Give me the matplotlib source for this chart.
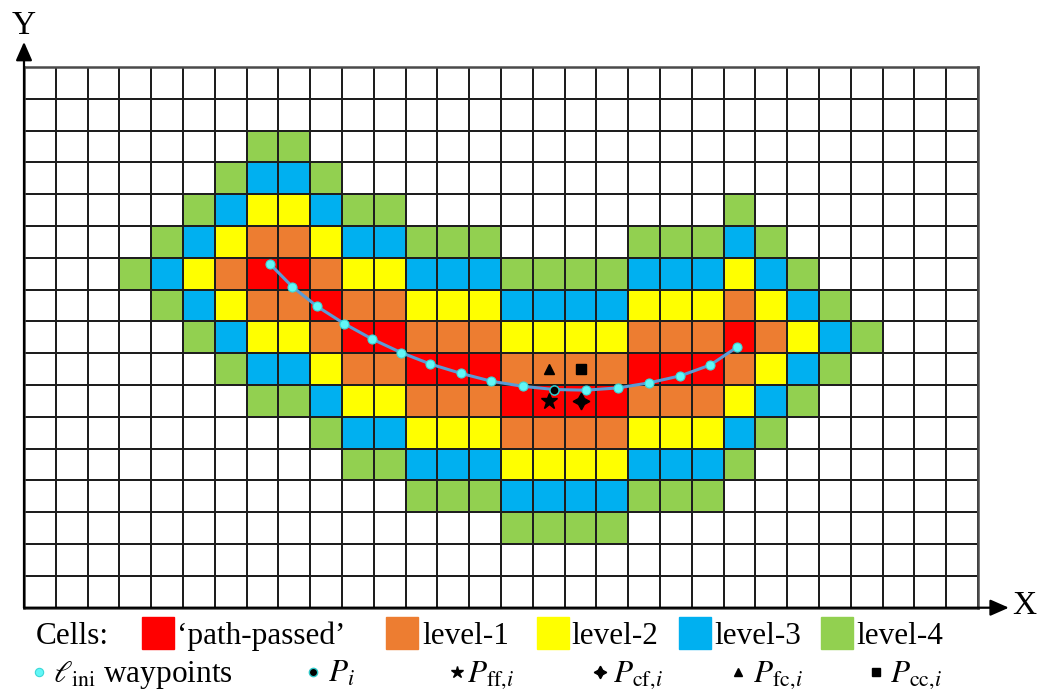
import numpy as np
import matplotlib.pyplot as plt
from matplotlib.colors import ListedColormap, BoundaryNorm
from matplotlib.patches import Rectangle

plt.rcParams['font.family'] = ['Liberation Serif', 'DejaVu Serif']
plt.rcParams['mathtext.fontset'] = 'stix'

# cell map, top row first: '.' free, 'P' path-passed, '1'..'4' risk levels
cell_rows = [
    "..............................",
    "..............................",
    ".......44.....................",
    "......4334....................",
    ".....4322344..........4.......",
    "....43211233444....44434......",
    "...4321PP1223334444333234.....",
    "....43211P1122233332221234....",
    ".....43221PP1112222111P1234...",
    "......433211PPP1111PPP1234....",
    ".......44322111PPPP111234.....",
    ".........433222111122234......",
    "..........4433322223334.......",
    "............4443333444........",
    "...............4444...........",
    "..............................",
    "..............................",
]
code = {'.': 0, 'P': 1, '1': 2, '2': 3, '3': 4, '4': 5}
cell_colors = ['white', '#FF0000', '#ED7D31', '#FFFF00', '#00B0F0', '#92D050']
cell_names = ["\u2018path-passed\u2019", "level-1", "level-2", "level-3", "level-4"]

# initial path waypoints (grid units)
wp_x = [7.74, 8.44, 9.22, 10.07, 10.94, 11.86, 12.78, 13.73, 14.70, 15.69,
        16.68, 17.67, 18.68, 19.66, 20.64, 21.58, 22.42]
wp_y = [10.80, 10.09, 9.47, 8.93, 8.45, 8.02, 7.66, 7.37, 7.12, 6.96,
        6.86, 6.84, 6.91, 7.07, 7.29, 7.63, 8.19]
pi_index = 10

# candidate points around P_i (cell centres)
p_ff = (16.5, 6.5)
p_cf = (17.5, 6.5)
p_fc = (16.5, 7.5)
p_cc = (17.5, 7.5)

grid = np.array([[code[ch] for ch in row] for row in cell_rows])[::-1]
n_rows, n_cols = grid.shape

W, H = 1053, 692
fig = plt.figure(figsize=(W / 100, H / 100), dpi=100)
ax = fig.add_axes([24 / W, (H - 607.7) / H, 954 / W, 540.7 / H])

cmap = ListedColormap(cell_colors)
norm = BoundaryNorm(np.arange(-0.5, 6.5, 1), cmap.N)
ax.pcolormesh(np.arange(n_cols + 1), np.arange(n_rows + 1), grid, cmap=cmap, norm=norm,
              edgecolors='#1e1e1e', linewidth=1.2)
ax.set_xlim(0, n_cols)
ax.set_ylim(0, n_rows)
ax.set_xticks([])
ax.set_yticks([])
for s in ax.spines.values():
    s.set_color('#4a4a4a')
    s.set_linewidth(1.8)

# axes arrows
arrow = dict(arrowstyle='-|>,head_length=0.75,head_width=0.33', lw=1.6, color='black',
             mutation_scale=15, shrinkA=0, shrinkB=0)
ax.annotate('', xy=(0, 17.79), xytext=(0, 0), arrowprops=arrow, annotation_clip=False)
ax.annotate('', xy=(30.97, 0), xytext=(0, 0), arrowprops=arrow, annotation_clip=False)
ax.text(0, 18.3, 'Y', fontsize=24, ha='center', va='center', clip_on=False)
ax.text(31.45, 0.05, 'X', fontsize=24, ha='center', va='center', clip_on=False)

# path and waypoints
ax.plot(wp_x, wp_y, color='#5B9BD5', lw=2.2, zorder=3)
ax.plot(wp_x, wp_y, 'o', ms=6.5, mfc='#62F7F7', mec='#3BD8D8', mew=0.8, zorder=4)
ax.plot(wp_x[pi_index], wp_y[pi_index], 'o', ms=6.5, mfc='black', mec='#2FC8C8',
        mew=1.0, zorder=5)

ax.plot(*p_ff, marker='*', ms=12, color='black', zorder=5)
ax.plot(*p_cf, marker=(4, 1, 0), ms=12, color='black', zorder=5)
ax.plot(*p_fc, marker='^', ms=7.5, color='black', zorder=5)
ax.plot(*p_cc, marker='s', ms=7, color='black', zorder=5)

# legend drawn in pixel space below the grid
lg = fig.add_axes([0, 0, 1, 1], facecolor='none')
lg.set_xlim(0, W)
lg.set_ylim(H, 0)
lg.axis('off')

fs = 22.5
row1_base, row1_mid = 644, 633
lg.text(36, row1_base, 'Cells:', fontsize=fs, va='baseline')
sq_left = [142.3, 386, 536.7, 679, 821]
txt_left = [176.7, 422.7, 571.7, 714, 856.7]
for k, name in enumerate(cell_names):
    lg.add_patch(Rectangle((sq_left[k], row1_mid - 16), 32, 32, color=cell_colors[k + 1]))
    lg.text(txt_left[k], row1_base, name, fontsize=fs, va='baseline')

row2_base, row2_mid = 682, 672
lg.plot(39.3, row2_mid, 'o', ms=6, mfc='#62F7F7', mec='#3BD8D8', mew=0.8)
lg.text(53, row2_base, r'$\ell_{\mathrm{ini}}$ waypoints', fontsize=fs, va='baseline')
lg.plot(313.3, row2_mid, 'o', ms=6, mfc='black', mec='#2FC8C8', mew=1.0)
lg.text(328, row2_base, r'$P_i$', fontsize=fs, va='baseline')
lg.plot(456.7, row2_mid, marker='*', ms=9, color='black')
lg.text(466.7, row2_base, r'$P_{\mathrm{ff},\!i}$', fontsize=fs, va='baseline')
lg.plot(600, row2_mid, marker=(4, 1, 0), ms=9, color='black')
lg.text(613, row2_base, r'$P_{\mathrm{cf},\!i}$', fontsize=fs, va='baseline')
lg.plot(738.3, row2_mid, marker='^', ms=6, color='black')
lg.text(753, row2_base, r'$P_{\mathrm{fc},\!i}$', fontsize=fs, va='baseline')
lg.plot(876, row2_mid, marker='s', ms=6, color='black')
lg.text(890, row2_base, r'$P_{\mathrm{cc},\!i}$', fontsize=fs, va='baseline')

fig.savefig('out.png', dpi=100)
